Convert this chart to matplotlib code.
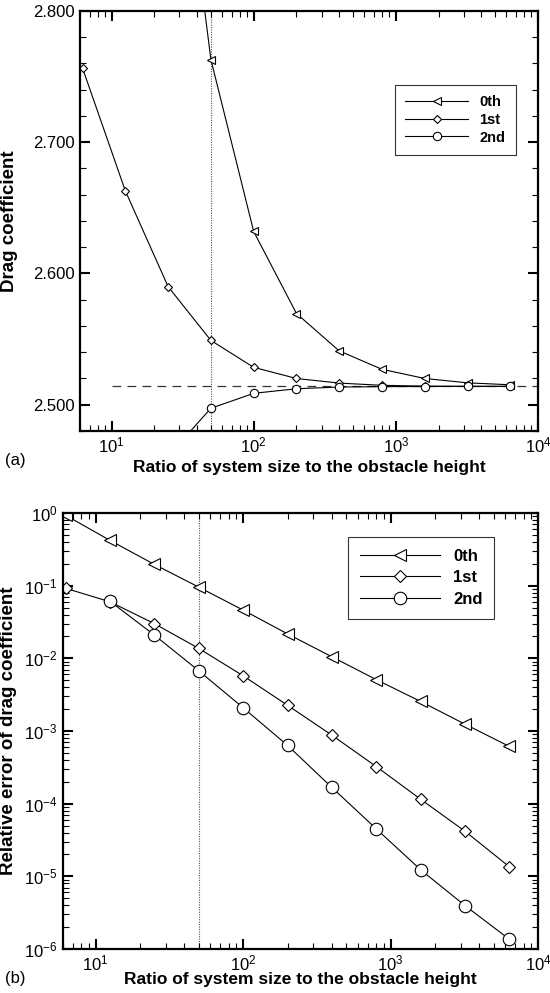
import matplotlib
matplotlib.use("Agg")
import matplotlib.pyplot as plt
from matplotlib.ticker import FixedLocator, FormatStrFormatter, LogFormatterSciNotation, NullFormatter
import numpy as np

plt.rcParams['font.family'] = ['Liberation Sans', 'DejaVu Sans']
plt.rcParams['mathtext.fontset'] = 'custom'
plt.rcParams['mathtext.rm'] = 'Liberation Sans'
plt.rcParams['mathtext.it'] = 'Liberation Sans'

# ---------------- data ----------------
ratio = [6.25, 12.5, 25, 50, 100, 200, 400, 800, 1600, 3200, 6400]
labels = ["0th", "1st", "2nd"]

# panel (a): drag coefficient
cd_0th = [4.90, 3.60, 3.02, 2.763, 2.632, 2.5695, 2.541, 2.527, 2.520, 2.5167, 2.5152]
cd_1st = [2.7565, 2.663, 2.590, 2.549, 2.5285, 2.520, 2.5165, 2.5148, 2.5142, 2.5140, 2.5140]
cd_2nd_x = ratio[1:]
cd_2nd = [2.364, 2.461, 2.4973, 2.5087, 2.5122, 2.5135, 2.5138, 2.5139, 2.5140, 2.5140]
cd_ref = 2.514
cd_ref_x = [10, 10000]
marked_ratio = 50

# panel (b): relative error
err_0th = [0.93, 0.42, 0.196, 0.0955, 0.0461, 0.0217, 0.0105, 0.00509, 0.00255, 0.00124, 0.000612]
err_1st = [0.092, 0.060, 0.030, 0.0137, 0.00575, 0.00226, 0.000875, 0.000324, 0.000115, 4.17e-5, 1.35e-5]
err_2nd_x = ratio[1:]
err_2nd = [0.061, 0.0209, 0.00674, 0.00209, 0.000634, 0.000167, 4.5e-5, 1.23e-5, 3.95e-6, 1.36e-6]

xlim = (6, 1e4)
x_major = [10, 100, 1000, 10000]
y_major_b = [1e-6, 1e-5, 1e-4, 1e-3, 1e-2, 1e-1, 1e0]

fig = plt.figure(figsize=(5.5, 9.93), dpi=100)
W, H = 550, 993

def add_ax(l, t, r, b):
    return fig.add_axes([l / W, 1 - b / H, (r - l) / W, (b - t) / H])

axA = add_ax(80, 11, 538, 431)
axB = add_ax(63, 513, 538, 949)

lw = 0.8
for ax in (axA, axB):
    for s in ax.spines.values():
        s.set_linewidth(1.6)
    ax.set_xscale('log')
    ax.set_xlim(*xlim)
    ax.xaxis.set_major_locator(FixedLocator(x_major))
    ax.xaxis.set_major_formatter(LogFormatterSciNotation())
    x_minor = [m * d for d in (1, 10, 100, 1000) for m in range(2, 10) if xlim[0] <= m * d <= xlim[1]]
    ax.xaxis.set_minor_locator(FixedLocator(x_minor))
    ax.xaxis.set_minor_formatter(NullFormatter())
    ax.tick_params(which='both', direction='in', top=True, right=True, labelsize=12)
    ax.tick_params(which='major', length=7.5, width=1.5)
    ax.tick_params(which='minor', length=4.3, width=0.8)
    ax.tick_params(axis='x', which='major', pad=3)
    ax.tick_params(axis='y', which='major', pad=4)
    ax.axvline(marked_ratio, color='#555555', ls=(0, (1, 1.2)), lw=0.8, zorder=1)

# ---- panel (a)
axA.plot(ratio, cd_0th, '-', marker='<', color='black', lw=lw, ms=6, mfc='white', mew=0.8, label=labels[0])
axA.plot(ratio, cd_1st, '-', marker='D', color='black', lw=lw, ms=4.2, mfc='white', mew=0.8, label=labels[1])
axA.plot(cd_2nd_x, cd_2nd, '-', marker='o', color='black', lw=lw, ms=6, mfc='white', mew=0.8, label=labels[2])
axA.plot(cd_ref_x, [cd_ref, cd_ref], color='#333333', lw=0.9, ls=(0, (7, 5)), zorder=1)
axA.set_ylim(2.48, 2.8)
axA.yaxis.set_major_locator(FixedLocator([2.5, 2.6, 2.7, 2.8]))
axA.yaxis.set_minor_locator(FixedLocator(np.arange(2.48, 2.8001, 0.02)))
axA.yaxis.set_major_formatter(FormatStrFormatter('%.3f'))
axA.set_ylabel('Drag coefficient', fontsize=13.5, fontweight='bold')
axA.yaxis.set_label_coords(-0.135, 0.5)
axA.set_xlabel('Ratio of system size to the obstacle height', fontsize=12.5, fontweight='bold')
axA.xaxis.set_label_coords(0.5, -0.069)
legA = axA.legend(loc='upper left', bbox_to_anchor=(315 / 458, 1 - 74 / 420), frameon=True, fancybox=False,
                  edgecolor='black', handlelength=4.3, prop={'weight': 'bold', 'size': 10.5},
                  borderpad=0.7, labelspacing=0.25, handletextpad=0.8, borderaxespad=0)
legA.get_frame().set_linewidth(0.8)

# ---- panel (b)
axB.plot(ratio, err_0th, '-', marker='<', color='black', lw=lw, ms=8, mfc='white', mew=0.8, label=labels[0])
axB.plot(ratio, err_1st, '-', marker='D', color='black', lw=lw, ms=6, mfc='white', mew=0.8, label=labels[1])
axB.plot(err_2nd_x, err_2nd, '-', marker='o', color='black', lw=lw, ms=9, mfc='white', mew=0.8, label=labels[2])
axB.set_yscale('log')
axB.set_ylim(1e-6, 1)
axB.yaxis.set_major_locator(FixedLocator(y_major_b))
axB.yaxis.set_major_formatter(LogFormatterSciNotation())
y_minor_b = [m * d for d in y_major_b[:-1] for m in range(2, 10)]
axB.yaxis.set_minor_locator(FixedLocator(y_minor_b))
axB.yaxis.set_minor_formatter(NullFormatter())
axB.set_ylabel('Relative error of drag coefficient', fontsize=13.5, fontweight='bold')
axB.yaxis.set_label_coords(-0.097, 0.5)
axB.set_xlabel('Ratio of system size to the obstacle height', fontsize=12.5, fontweight='bold')
axB.xaxis.set_label_coords(0.5, -0.052)
legB = axB.legend(loc='upper left', bbox_to_anchor=(285 / 475, 1 - 24 / 436), frameon=True, fancybox=False,
                  edgecolor='black', handlelength=4.8, prop={'weight': 'bold', 'size': 12},
                  borderpad=0.7, labelspacing=0.4, handletextpad=0.8, borderaxespad=0)
legB.get_frame().set_linewidth(0.8)

fig.text(5 / W, 1 - 461 / H, '(a)', fontsize=12, va='center', ha='left')
fig.text(5 / W, 1 - 978 / H, '(b)', fontsize=12, va='center', ha='left')

fig.savefig('out.png', dpi=100)
